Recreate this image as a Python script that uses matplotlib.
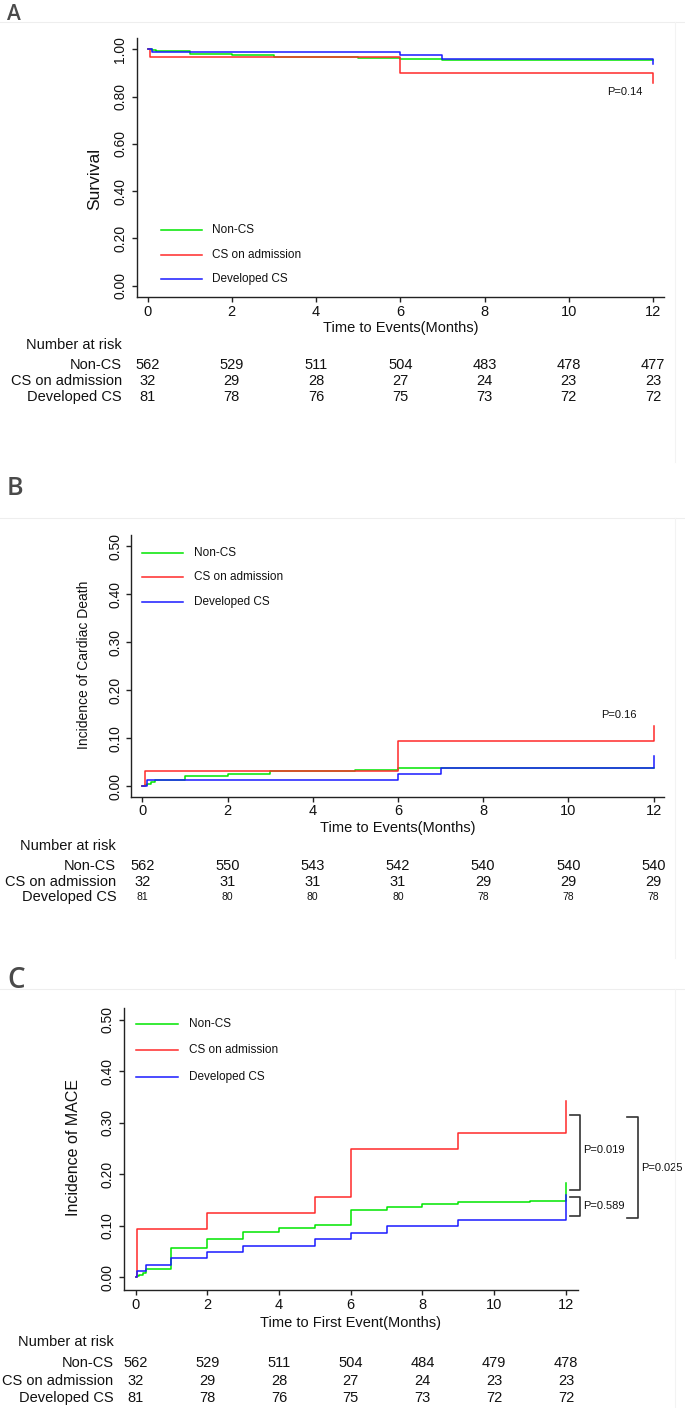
import matplotlib
matplotlib.use("Agg")
import matplotlib.pyplot as plt
from matplotlib.transforms import blended_transform_factory

W, H = 685, 1408
plt.rcParams["font.family"] = ["Liberation Sans", "DejaVu Sans"]

groups = ["Non-CS", "CS on admission", "Developed CS"]
colors = ["#00e600", "#ff2a2a", "#1a1aff"]
risk_times = [0, 2, 4, 6, 8, 10, 12]

# panel A: survival
a_noncs_t = [0, 0.1, 0.2, 0.3, 1, 2, 3, 5, 6, 7, 12]
a_noncs_y = [1.0, 0.998, 0.995, 0.991, 0.981, 0.975, 0.967, 0.963, 0.960, 0.957, 0.957]
a_cs_t = [0, 0.05, 6, 12]
a_cs_y = [1.0, 0.969, 0.898, 0.859]
a_dev_t = [0, 0.1, 6, 7, 12]
a_dev_y = [1.0, 0.988, 0.975, 0.961, 0.937]
a_risk = [[562, 529, 511, 504, 483, 478, 477],
          [32, 29, 28, 27, 24, 23, 23],
          [81, 78, 76, 75, 73, 72, 72]]

# panel B: cardiac death
b_noncs_t = [0, 0.05, 0.1, 0.2, 0.3, 1, 2, 3, 5, 6, 12]
b_noncs_y = [0, 0.002, 0.005, 0.009, 0.012, 0.021, 0.025, 0.032, 0.034, 0.037, 0.037]
b_cs_t = [0, 0.05, 6, 12]
b_cs_y = [0, 0.031, 0.094, 0.125]
b_dev_t = [0, 0.1, 6, 7, 12]
b_dev_y = [0, 0.012, 0.025, 0.037, 0.062]
b_risk = [[562, 550, 543, 542, 540, 540, 540],
          [32, 31, 31, 31, 29, 29, 29],
          [81, 80, 80, 80, 78, 78, 78]]

# panel C: MACE
c_noncs_t = [0, 0.05, 0.1, 0.2, 0.3, 1, 2, 3, 4, 5, 6, 7, 8, 9, 11, 12]
c_noncs_y = [0, 0.002, 0.005, 0.009, 0.016, 0.057, 0.075, 0.089, 0.096, 0.102,
             0.131, 0.137, 0.142, 0.146, 0.148, 0.183]
c_cs_t = [0, 0.05, 2, 5, 6, 9, 12]
c_cs_y = [0, 0.094, 0.125, 0.156, 0.250, 0.281, 0.343]
c_dev_t = [0, 0.05, 0.3, 1, 2, 3, 5, 6, 7, 9, 12]
c_dev_y = [0, 0.012, 0.025, 0.037, 0.049, 0.062, 0.074, 0.086, 0.099, 0.111, 0.160]
c_risk = [[562, 529, 511, 504, 484, 479, 478],
          [32, 29, 28, 27, 24, 23, 23],
          [81, 78, 76, 75, 73, 72, 72]]

fig = plt.figure(figsize=(W / 100, H / 100), dpi=100)


def fy(y):
    return 1 - y / H


def panel(box, xlim, ylim, yticks, curves, ylabel, ylab_xy, ylab_size,
          xlabel, xlab_y, legend_x, legend_y, risk, risk_hdr_y, risk_rows_y,
          risk_right, last_row_size=10.5):
    l, r, t, b = box
    ax = fig.add_axes([l / W, fy(b), (r - l) / W, (b - t) / H])
    for (tt, yy), c in zip(curves, colors):
        ax.step(tt, yy, where="post", color=c, lw=1.1)
    ax.set_xlim(*xlim)
    ax.set_ylim(*ylim)
    ax.set_xticks(risk_times)
    ax.set_yticks(yticks)
    ax.set_yticklabels([f"{v:.2f}" for v in yticks], rotation=90, va="center")
    for s in ["top", "right"]:
        ax.spines[s].set_visible(False)
    for s in ["left", "bottom"]:
        ax.spines[s].set_color("#222222")
        ax.spines[s].set_linewidth(1.0)
    ax.tick_params(axis="both", length=3.6, width=1.0, color="#222222",
                   labelsize=10.5, labelcolor="#111111")
    ax.tick_params(axis="x", pad=2)
    ax.tick_params(axis="y", pad=3, labelsize=10)
    fig.text(ylab_xy[0] / W, fy(ylab_xy[1]), ylabel, rotation=90,
             ha="center", va="center", fontsize=ylab_size, color="#111111")
    tr = blended_transform_factory(ax.transData, fig.transFigure)
    ax.text(6, fy(xlab_y), xlabel, transform=tr, ha="center", va="center",
            fontsize=10.5, color="#111111")
    # legend
    for g, c, ly in zip(groups, colors, legend_y):
        ax.plot(legend_x[:2], [ly, ly], color=c, lw=1.1)
        ax.text(legend_x[2], ly, g, ha="left", va="center", fontsize=8.5,
                color="#111111")
    # number at risk table
    fig.text(risk_right / W, fy(risk_hdr_y), "Number at risk", ha="right",
             va="center", fontsize=10.5, color="#111111")
    for i, (g, row, ry) in enumerate(zip(groups, risk, risk_rows_y)):
        fig.text(risk_right / W, fy(ry), g, ha="right", va="center",
                 fontsize=10.5, color="#111111")
        size = last_row_size if i == 2 else 10.5
        for t_, n in zip(risk_times, row):
            ax.text(t_, fy(ry), str(n), transform=tr, ha="center", va="center",
                    fontsize=size, color="#111111")
    return ax


def frame(letter, letter_base, size, line_y):
    fig.text(7 / W, fy(letter_base), letter, ha="left", va="baseline",
             fontsize=size, color="#4a4a4a", fontweight="semibold",
             family=["Open Sans", "DejaVu Sans"])
    fig.add_artist(plt.Line2D([0, 1], [fy(line_y), fy(line_y)], color="#eeeeee",
                              lw=0.8, transform=fig.transFigure))
    fig.add_artist(plt.Line2D([675 / W, 675 / W], [fy(line_y), fy(line_y + 440)],
                              color="#f3f3f3", lw=0.8, transform=fig.transFigure))


frame("A", 20.5, 15, 21.7)
frame("B", 495, 18, 518)
frame("C", 988, 20, 989)

ax_a = panel((136.6, 664, 38, 297), (-0.26, 12.26), (-0.048, 1.048),
             [0, 0.2, 0.4, 0.6, 0.8, 1.0],
             [(a_noncs_t, a_noncs_y), (a_cs_t, a_cs_y), (a_dev_t, a_dev_y)],
             "Survival", (95, 179), 12.5, "Time to Events(Months)", 328,
             (0.32, 1.29, 1.53), (0.236, 0.130, 0.028),
             a_risk, 345, (365, 381, 397), 122)
ax_a.text(11.34, 0.82, "P=0.14", ha="center", va="center", fontsize=8,
          color="#111111")

ax_b = panel((131.3, 663.8, 535, 796.7), (-0.261, 12.24), (-0.022, 0.523),
             [0, 0.1, 0.2, 0.3, 0.4, 0.5],
             [(b_noncs_t, b_noncs_y), (b_cs_t, b_cs_y), (b_dev_t, b_dev_y)],
             "Incidence of Cardiac Death", (84, 665), 10, "Time to Events(Months)", 828,
             (0.0, 0.96, 1.21), (0.486, 0.435, 0.384),
             b_risk, 845.7, (865.7, 881.7, 896.7), 116.2, last_row_size=7.5)
ax_b.text(11.19, 0.148, "P=0.16", ha="center", va="center", fontsize=8,
          color="#111111")

ax_c = panel((123.7, 577.8, 1008, 1290), (-0.329, 12.33), (-0.0243, 0.523),
             [0, 0.1, 0.2, 0.3, 0.4, 0.5],
             [(c_noncs_t, c_noncs_y), (c_cs_t, c_cs_y), (c_dev_t, c_dev_y)],
             "Incidence of MACE", (73.4, 1148), 11.5, "Time to First Event(Months)", 1323,
             (0.0, 1.18, 1.49), (0.492, 0.441, 0.390),
             c_risk, 1342.3, (1363.3, 1381, 1398.3), 113.6)

# significance brackets
brackets = [(12.11, 12.40, 0.316, 0.170, "P=0.019", 0.248),
            (12.11, 12.40, 0.157, 0.120, "P=0.589", 0.138),
            (13.70, 14.01, 0.312, 0.115, "P=0.025", 0.213)]
for x0, x1, ytop, ybot, lab, ly in brackets:
    ax_c.plot([x0, x1, x1, x0], [ytop, ytop, ybot, ybot], color="#333333",
              lw=1.2, clip_on=False)
    ax_c.text(x1 + 0.09, ly, lab, ha="left", va="center", fontsize=8,
              color="#111111", clip_on=False)

fig.savefig("out.png", dpi=100)
